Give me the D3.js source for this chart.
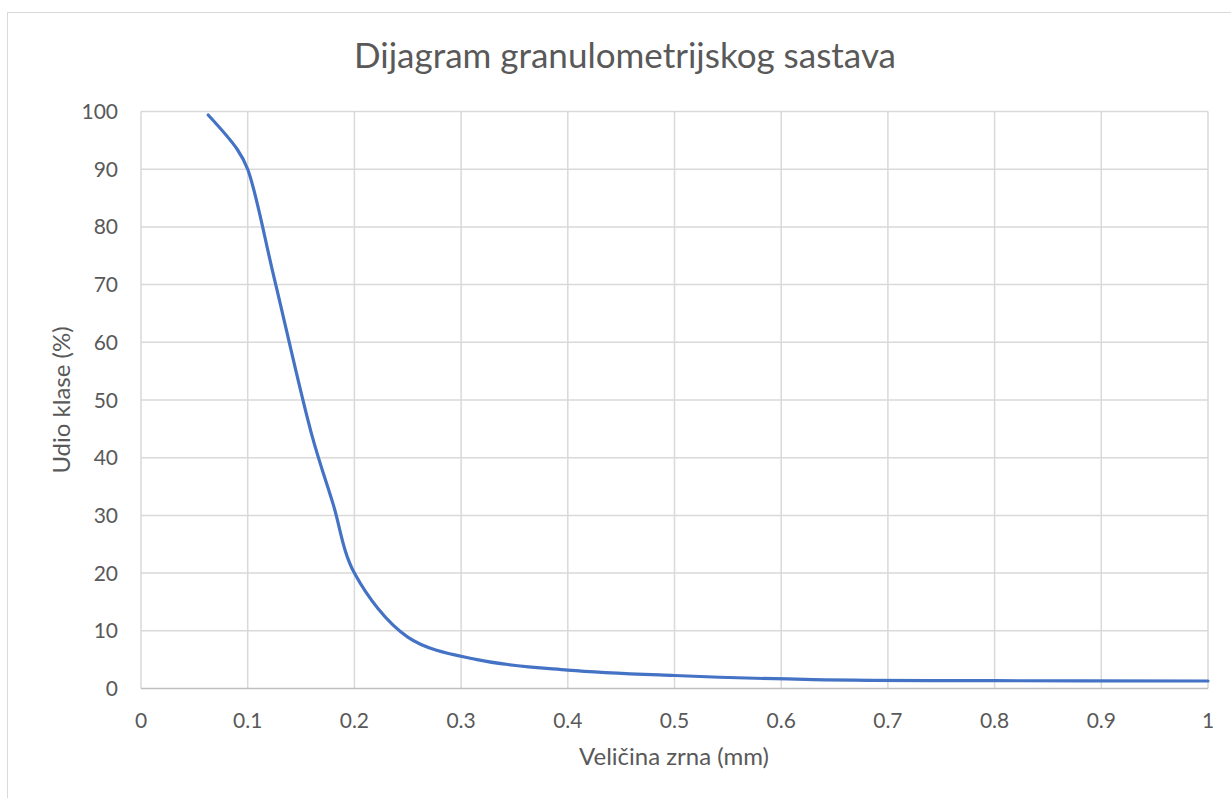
<!DOCTYPE html>
<html>
<head>
<meta charset="utf-8">
<script src="https://cdn.jsdelivr.net/npm/d3@7"></script>
<style>
  body { margin: 0; background: #fff; }
  text { font-family: Lato, "Open Sans", sans-serif; fill: #595959; }
</style>
</head>
<body>
<svg id="chart" width="1231" height="798"></svg>
<script>
// grain size (mm) and class share (%)
var sizes = [0.063, 0.09, 0.1, 0.125, 0.16, 0.18, 0.2, 0.25, 0.315, 0.4, 0.5, 0.63, 0.8, 1.0];
var shares = [99.4, 93.5, 90, 71, 44, 32, 20, 8.9, 5.0, 3.2, 2.25, 1.55, 1.35, 1.3];
var xTicks = [0, 0.1, 0.2, 0.3, 0.4, 0.5, 0.6, 0.7, 0.8, 0.9, 1];
var yTicks = [0, 10, 20, 30, 40, 50, 60, 70, 80, 90, 100];

var points = sizes.map((d, i) => [d, shares[i]]);

var svg = d3.select('#chart');

// chart frame
svg.append('rect')
    .attr('x', 7.5).attr('y', 12.5)
    .attr('width', 1240).attr('height', 800)
    .attr('fill', 'none')
    .attr('stroke', '#d9d9d9');

var x = d3.scaleLinear().domain([0, 1]).range([141, 1208]);
var y = d3.scaleLinear().domain([0, 100]).range([688.5, 111.5]);

// grid
svg.append('g').selectAll('line.h')
    .data(yTicks.slice(1))
    .enter().append('line')
        .attr('x1', x(0)).attr('x2', x(1))
        .attr('y1', y).attr('y2', y)
        .attr('stroke', '#d9d9d9').attr('stroke-width', 1.5);

svg.append('g').selectAll('line.v')
    .data(xTicks)
    .enter().append('line')
        .attr('x1', x).attr('x2', x)
        .attr('y1', y(0)).attr('y2', y(100))
        .attr('stroke', '#d9d9d9').attr('stroke-width', 1.5);

// x baseline
svg.append('line')
    .attr('x1', x(0)).attr('x2', x(1))
    .attr('y1', y(0)).attr('y2', y(0))
    .attr('stroke', '#bfbfbf').attr('stroke-width', 1.5);

// tick labels
svg.append('g').selectAll('text')
    .data(xTicks)
    .enter().append('text')
        .attr('x', x)
        .attr('y', 727.5)
        .attr('text-anchor', 'middle')
        .style('font-size', '21px')
        .text(d => d);

svg.append('g').selectAll('text')
    .data(yTicks)
    .enter().append('text')
        .attr('x', 118)
        .attr('y', d => y(d) + 7.5)
        .attr('text-anchor', 'end')
        .style('font-size', '21px')
        .text(d => d);

// curve
var line = d3.line()
    .x(d => x(d[0]))
    .y(d => y(d[1]))
    .curve(d3.curveCatmullRom.alpha(0.5));

svg.append('path')
    .datum(points)
    .attr('d', line)
    .attr('fill', 'none')
    .attr('stroke', '#4472c4')
    .attr('stroke-width', 3.2)
    .attr('stroke-linecap', 'round');

// titles
svg.append('text')
    .attr('x', 625).attr('y', 68)
    .attr('text-anchor', 'middle')
    .style('font-size', '35px')
    .text('Dijagram granulometrijskog sastava');

svg.append('text')
    .attr('x', 674).attr('y', 765)
    .attr('text-anchor', 'middle')
    .style('font-size', '24px')
    .text('Veličina zrna (mm)');

svg.append('text')
    .attr('transform', 'translate(70,400) rotate(-90)')
    .attr('text-anchor', 'middle')
    .style('font-size', '24px')
    .text('Udio klase (%)');
</script>
</body>
</html>
